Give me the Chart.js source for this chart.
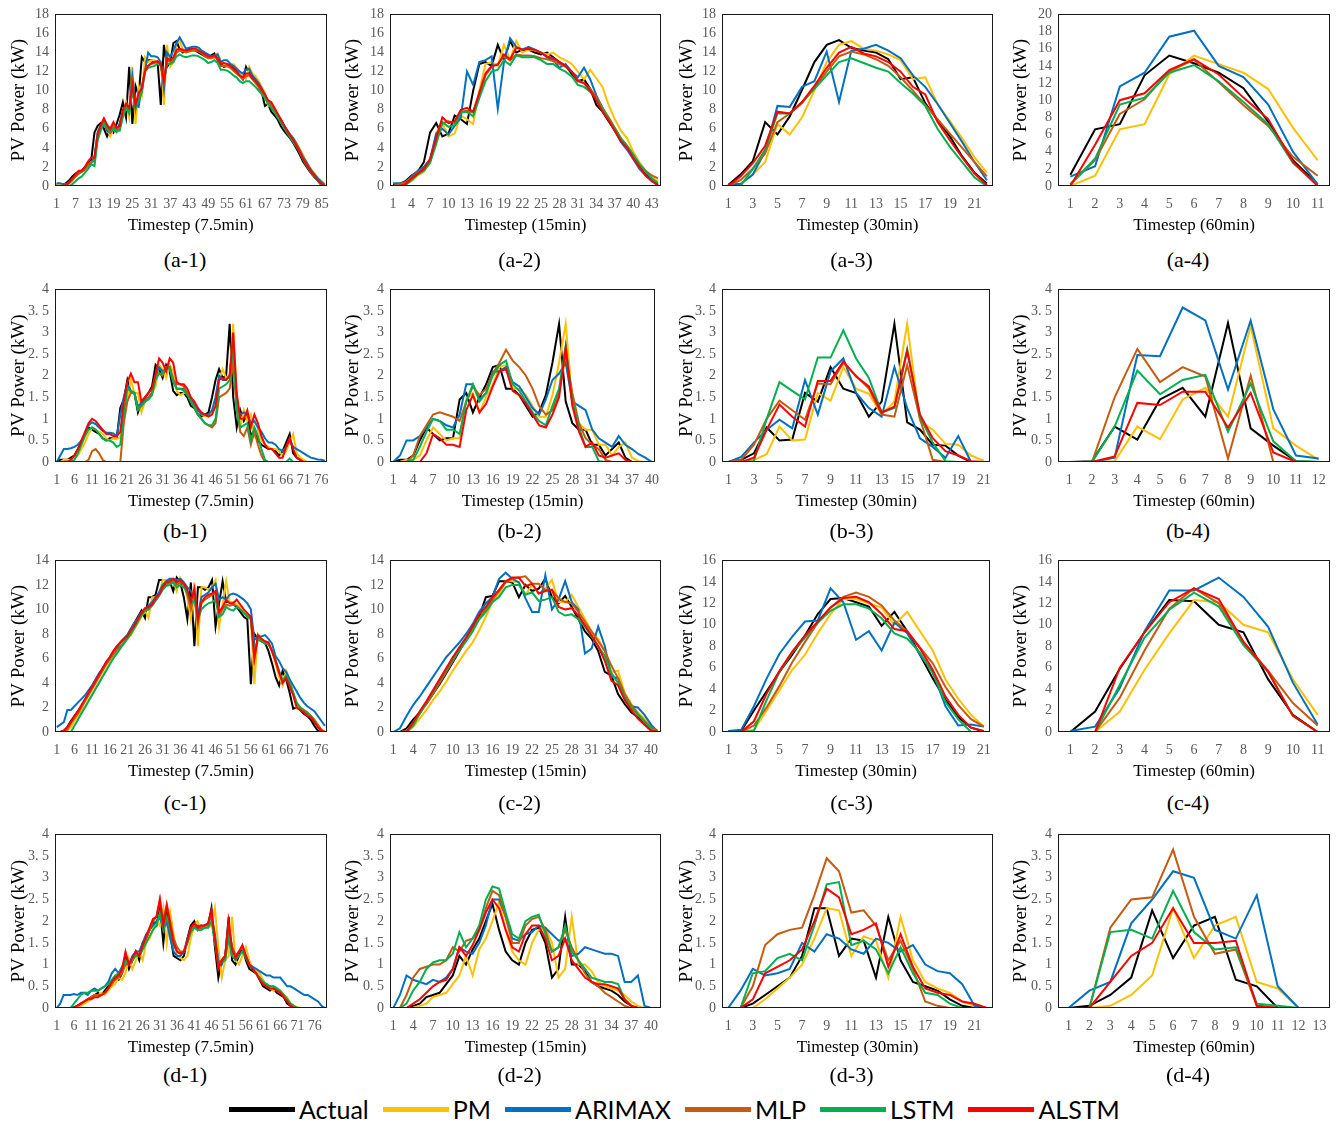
<!DOCTYPE html>
<html>
<head>
<meta charset="utf-8">
<title>PV power forecasts</title>
<script src="https://cdn.jsdelivr.net/npm/chart.js@4.4.1/dist/chart.umd.min.js"></script>
<style>
  body { margin: 0; background: #fff; }
  #page { position: relative; width: 1341px; height: 1125px; overflow: hidden; }
  .panel { position: absolute; }
  .caption { position: absolute; width: 120px; margin-left: -60px; text-align: center;
             font: 22px 'Liberation Serif', 'Times New Roman', serif; line-height: 26px; color: #000; }
  #legend { position: absolute; left: 229px; top: 1092px; height: 34px; display: flex; align-items: center;
            font-family: Lato, 'Open Sans', sans-serif; font-size: 25px; color: #000; }
  #legend .item { display: flex; align-items: center; margin-right: 14px; }
  #legend .swatch { display: inline-block; width: 66px; height: 5px; margin-right: 4px; }
</style>
</head>
<body>
<div id="page"></div>
<script>
// series shown in every panel
const seriesNames = ['Actual', 'PM', 'ARIMAX', 'MLP', 'LSTM', 'ALSTM'];
const seriesColors = ['#000000', '#FFC000', '#0070C0', '#C55A11', '#00B050', '#FF0000'];

// ---- (a-1) 7.5 min ----
const a1Actual = [0.2,0.1,0.1,0.3,0.6,1.0,1.3,1.5,1.6,2.0, 2.5,2.8,5.6,6.3,6.6,6.0,5.2,6.0,5.6,6.5,
  7.5,8.8,7.2,12.5,6.5,10.5,9.5,13.5,13.0,13.2, 13.2,13.0,13.0,8.5,14.8,12.5,13.0,15.0,15.2,14.3,
  14.0,14.2,14.4,14.3,14.2,14.0,13.8,13.6,13.5,13.7, 13.9,13.2,12.8,12.5,12.6,12.8,12.4,12.0,11.6,11.2,
  12.5,11.8,11.5,11.0,10.4,9.8,8.4,8.6,7.8,7.4, 7.0,6.3,5.8,5.4,5.0,4.5,3.9,3.3,2.6,2.1, 1.6,1.2,0.8,0.5,0.2,0.0];
const a1PM = [0.2,0.2,0.1,0.1,0.3,0.6,1.0,1.3,1.5,1.6, 2.0,2.5,2.8,5.6,6.3,6.6,6.0,5.2,6.0,5.6,
  6.5,7.5,8.8,7.2,12.5,6.5,10.5,9.5,13.5,13.0, 13.2,13.2,13.0,13.0,8.5,14.8,12.5,13.0,15.0,15.2,
  14.3,14.0,14.2,14.4,14.3,14.2,14.0,13.8,13.6,13.5, 13.7,13.9,13.2,12.8,12.5,12.6,12.8,12.4,12.0,11.6,
  11.2,12.5,11.8,11.5,11.0,10.4,9.8,8.4,8.6,7.8, 7.4,7.0,6.3,5.8,5.4,5.0,4.5,3.9,3.3,2.6, 2.1,1.6,1.2,0.8,0.5,0.2];
const a1ARIMAX = [0.3,0.3,0.2,0.2,0.4,0.7,1.0,1.3,1.5,1.8, 2.2,2.5,3.0,5.6,6.4,6.6,5.8,5.6,6.0,5.7,
  6.6,7.8,8.6,8.0,11.5,8.5,8.3,10.5,12.0,14.0, 13.6,13.6,13.5,13.0,10.2,14.0,13.5,14.2,15.0,15.6,
  15.0,14.4,14.5,14.6,14.6,14.5,14.2,14.0,13.8,13.6, 13.7,13.8,13.0,13.2,13.2,12.8,12.6,12.3,12.0,11.8,
  12.2,12.3,11.6,11.2,10.8,10.2,9.6,8.8,8.6,8.0, 7.5,7.0,6.4,5.9,5.4,5.0,4.4,3.8,3.1,2.6, 2.0,1.5,1.1,0.7,0.4,0.1];
const a1MLP = [0,0,0,0.1,0.3,0.6,1.0,1.3,1.5,1.8, 2.2,2.5,2.6,5.0,6.0,6.8,6.0,5.6,6.3,5.8,
  6.2,7.5,8.5,7.8,10.8,8.0,9.5,10.0,12.3,12.6, 12.8,12.9,13.0,12.8,10.8,13.2,13.0,13.2,14.0,14.2,
  14.1,14.0,14.1,14.2,14.2,14.1,13.9,13.6,13.4,13.4, 13.5,13.3,12.6,12.6,12.6,12.4,12.1,11.8,11.5,11.2,
  11.5,11.6,11.2,10.8,10.4,9.9,9.4,8.8,8.5,7.9, 7.4,6.9,6.3,5.8,5.3,4.8,4.3,3.7,3.0,2.4, 1.8,1.3,0.9,0.5,0.2,0.0];
const a1LSTM = [0,0,0,0,0,0.2,0.5,0.8,1.0,1.4, 1.8,2.3,2.1,4.8,5.8,6.6,6.2,5.8,6.0,5.8,
  5.8,7.2,8.2,7.6,10.0,8.2,9.0,9.8,12.0,12.4, 12.5,12.6,12.8,12.6,11.0,12.8,12.8,13.0,13.6,13.8,
  13.6,13.5,13.6,13.7,13.7,13.6,13.4,13.2,12.9,13.0, 13.2,12.9,12.2,12.2,12.1,11.9,11.6,11.4,11.0,10.8,
  11.0,11.0,10.7,10.4,10.0,9.6,9.2,8.6,8.2,7.7, 7.2,6.7,6.1,5.6,5.1,4.6,4.1,3.5,2.8,2.2, 1.7,1.2,0.8,0.4,0,0];
const a1ALSTM = [0,0,0,0.1,0.4,0.8,1.2,1.6,1.6,2.0, 2.6,3.0,3.0,5.4,6.4,7.1,6.4,6.0,6.7,6.1,
  6.3,8.0,8.6,8.2,10.6,8.5,9.8,10.2,12.0,12.6, 12.9,13.0,13.1,12.8,11.0,13.4,13.2,13.5,14.3,14.4,
  14.3,14.2,14.3,14.4,14.4,14.2,14.0,13.8,13.6,13.6, 13.7,13.4,12.8,12.9,12.8,12.6,12.3,12.0,11.6,11.4,
  11.8,11.8,11.3,11.0,10.6,10.1,9.6,9.0,8.8,8.2, 7.6,7.0,6.4,5.8,5.3,4.8,4.2,3.6,2.9,2.3, 1.8,1.3,0.9,0.5,0.2,0];

// ---- (a-2) 15 min ----
const a2Actual = [0.1,0.2,0.5,1.1,1.5,2.5,5.6,6.6,5.2,5.5, 7.4,7.0,6.5,10.0,12.8,13.0,12.6,14.8,13.2,15.2,
  14.0,14.3,14.3,14.0,13.8,14.0,13.5,13.0,12.6,11.8, 11.0,11.2,10.2,8.5,7.8,6.8,5.8,4.8,4.0,3.0, 2.0,1.2,0.6,0.1];
const a2PM = [0.0,0.1,0.2,0.5,1.1,1.5,2.5,5.6,6.6,5.2, 5.5,7.4,7.0,6.5,10.0,12.8,13.0,12.6,14.8,13.2,
  15.2,14.0,14.3,14.3,14.0,13.8,14.0,13.5,13.2,12.8, 12.0,11.2,12.2,11.3,10.4,8.5,7.0,5.8,5.0,3.6, 2.5,1.6,0.9,0.5];
const a2ARIMAX = [0.3,0.3,0.4,1.0,1.6,2.0,2.8,5.5,6.0,5.4, 6.3,7.2,12.0,10.6,13.0,13.2,13.6,8.1,13.0,15.5,
  14.6,14.3,14.6,14.3,14.0,13.5,13.2,12.4,12.8,12.0, 11.4,12.4,11.2,9.5,8.2,7.0,5.8,4.6,3.8,2.8, 1.8,1.1,0.6,0.2];
const a2MLP = [0,0.2,0.4,0.9,1.4,1.8,2.6,4.6,6.6,6.8, 6.6,7.8,7.9,7.7,9.5,11.6,12.5,12.8,13.6,13.2,
  13.8,13.7,13.7,13.6,13.4,13.3,13.1,12.8,12.5,12.0, 11.1,10.8,10.2,9.3,8.2,7.2,6.1,5.0,4.2,3.2, 2.3,1.6,1.1,0.8];
const a2LSTM = [0,0,0.1,0.6,1.2,1.6,2.4,4.4,6.7,6.2, 6.4,7.7,7.8,7.3,9.2,11.0,12.0,12.2,13.2,12.7,
  13.7,13.5,13.5,13.5,13.2,12.8,12.8,12.3,12.0,11.5, 10.6,10.4,9.9,9.1,8.1,7.0,6.0,5.0,4.2,3.3, 2.3,1.5,0.8,0.3];
const a2ALSTM = [0,0,0.2,0.8,1.3,1.8,2.8,5.0,7.2,6.6, 6.8,8.0,8.2,7.8,9.8,11.8,12.6,12.7,13.8,13.3,
  14.5,14.3,14.4,14.3,14.0,13.6,13.4,13.0,12.6,12.0, 11.0,10.8,10.0,9.0,7.8,6.9,5.8,4.7,4.0,2.9, 2.0,1.1,0.5,0.1];

// ---- (a-3) 30 min ----
const a3Actual = [0.1,1.2,2.6,6.7,5.4,7.3,10.1,13.0,14.8,15.3,14.5,14.2,14.0,13.3,11.2,11.4,8.7,6.9,5.2,3.1,1.4,0.25];
const a3PM = [0,0.2,1.2,2.5,6.5,5.4,7.2,10.0,13.0,14.8,15.2,14.4,14.2,13.8,13.2,11.2,11.4,8.6,6.8,5.0,3.0,1.4];
const a3ARIMAX = [0.2,0.2,1.2,3.6,8.4,8.3,10.4,11.0,14.1,8.8,14.2,14.4,14.8,14.2,13.4,11.6,10.4,8.6,6.6,4.6,2.5,0.6];
const a3MLP = [0,0.6,1.8,3.4,6.7,7.6,8.7,10.3,12.0,13.6,14.1,13.8,13.3,12.6,11.4,10.0,8.5,7.0,5.5,4.0,2.5,1.0];
const a3LSTM = [0,0,1.8,3.8,7.6,7.6,8.8,10.2,11.6,13.0,13.4,12.9,12.4,12.0,10.8,9.7,8.4,6.0,4.1,2.5,0.9,0];
const a3ALSTM = [0,1.0,2.4,4.2,7.8,7.6,8.8,10.5,12.4,14.0,14.6,13.9,13.6,13.0,12.0,10.4,9.6,6.7,4.8,3.0,1.3,0.1];

// ---- (a-4) 60 min ----
const a4Actual = [1.3,6.6,7.2,12.9,15.2,14.3,13.2,11.4,7.5,3.0,0.2];
const a4PM = [0,1.2,6.6,7.2,13.0,15.2,14.2,13.2,11.3,6.8,3.0];
const a4ARIMAX = [1.1,2.3,11.6,13.2,17.4,18.1,14.0,12.7,9.5,4.0,0.2];
const a4MLP = [0.2,3.0,8.4,10.1,13.4,14.7,12.1,9.4,7.0,3.4,1.2];
const a4LSTM = [0.2,3.2,9.5,10.3,13.2,14.1,12.2,9.8,7.2,2.7,0.1];
const a4ALSTM = [0,4.8,10.0,10.8,13.5,14.8,13.0,10.3,7.8,2.8,0];

// ---- (b-1) 7.5 min ----
const b1Actual = [0,0.05,0.05,0.05,0.1,0.15,0.3,0.45,0.65,0.8, 0.75,0.7,0.65,0.55,0.5,0.55,0.55,0.55,1.25,1.45,
  1.9,1.6,1.6,1.15,1.4,1.5,1.6,1.75,2.25,2.15, 1.95,2.25,2.1,1.65,1.55,1.6,1.6,1.5,1.3,1.25,
  1.1,1.05,1.1,1.15,1.5,1.9,2.15,1.95,2.0,3.2, 1.5,0.8,1.2,0.95,1.1,0.6,0.75,0.5,0.4,0.35,
  0.3,0.3,0.25,0.15,0.25,0.45,0.65,0.2,0.1,0.05, 0,0,0,0,0,0,0];
const b1PM = [0,0,0.05,0.05,0.05,0.1,0.15,0.3,0.45,0.65, 0.8,0.75,0.7,0.65,0.55,0.5,0.55,0.55,0.55,1.25,
  1.45,1.9,1.6,1.6,1.15,1.4,1.5,1.6,1.75,2.25, 2.15,1.95,2.25,2.1,1.65,1.55,1.6,1.6,1.5,1.3,
  1.25,1.1,1.05,1.1,1.15,1.5,1.9,2.15,1.95,2.0, 3.2,1.5,0.8,1.2,0.95,1.1,0.6,0.75,0.5,0.4,
  0.35,0.3,0.3,0.25,0.15,0.25,0.45,0.65,0.2,0.1, 0.05,0,0,0,0,0,0];
const b1ARIMAX = [0,0.15,0.3,0.3,0.32,0.35,0.4,0.5,0.65,0.85, 0.92,0.88,0.8,0.72,0.68,0.68,0.66,0.6,1.1,1.5,
  1.8,1.65,1.6,1.3,1.35,1.45,1.5,1.6,2.0,2.2, 2.1,2.15,2.2,1.9,1.7,1.7,1.7,1.6,1.45,1.35,
  1.2,1.1,1.1,1.1,1.2,1.5,2.0,1.9,1.9,2.0, 2.8,1.3,1.1,1.15,1.1,0.9,0.95,0.8,0.7,0.55,
  0.45,0.45,0.4,0.3,0.25,0.35,0.5,0.35,0.3,0.25, 0.2,0.15,0.1,0.08,0.06,0.05,0.03];
const b1MLP = [0,0,0,0,0,0,0,0,0,0.05, 0.25,0.3,0.2,0.05,0,0,0,0,0,0.9,
  1.4,1.6,1.6,1.25,1.3,1.4,1.5,1.6,2.0,2.05, 2.0,2.2,2.2,1.9,1.8,1.8,1.75,1.6,1.4,1.3,
  1.1,1.0,0.9,0.85,0.8,0.9,1.5,1.55,1.6,1.7, 2.3,1.2,0.7,0.6,0.8,0.4,0.7,0.4,0.15,0,
  0,0,0,0,0,0,0,0,0,0, 0,0,0,0,0,0,0];
const b1LSTM = [0,0,0,0,0,0.05,0.2,0.4,0.6,0.75, 0.8,0.75,0.65,0.55,0.5,0.5,0.45,0.35,0.4,1.1,
  1.7,1.65,1.6,1.2,1.3,1.4,1.45,1.55,1.9,2.05, 2.05,2.2,2.15,1.85,1.7,1.7,1.65,1.55,1.4,1.25,
  1.1,1.0,0.9,0.85,0.85,1.0,1.7,1.75,1.8,1.9, 2.7,1.2,0.8,0.85,0.9,0.5,0.8,0.6,0.3,0.05,
  0,0,0,0,0,0,0.08,0,0,0, 0,0,0,0,0,0,0];
const b1ALSTM = [0,0,0,0,0.05,0.15,0.3,0.5,0.7,0.9, 1.0,0.95,0.85,0.75,0.65,0.65,0.6,0.6,0.7,1.4,
  1.85,2.05,1.85,1.85,1.4,1.5,1.6,1.7,2.05,2.4, 2.3,2.1,2.4,2.3,1.85,1.8,1.8,1.7,1.5,1.4,
  1.25,1.15,1.1,1.05,1.1,1.3,1.9,1.95,1.9,2.0, 3.0,1.6,1.0,1.0,1.2,0.8,1.1,0.9,0.6,0.4,
  0.3,0.3,0.2,0.1,0.1,0.35,0.55,0.3,0.1,0.05, 0,0,0,0,0,0,0];

// ---- (b-2) 15 min ----
const b2Actual = [0,0.05,0.05,0.15,0.5,0.8,0.65,0.5,0.55,0.55, 1.45,1.6,1.15,1.5,1.8,2.2,2.25,1.7,1.7,1.55,
  1.3,1.05,1.15,1.55,2.3,3.2,1.4,0.9,0.75,0.75, 0.4,0.4,0.15,0.3,0.45,0.1,0,0,0,0];
const b2PM = [0,0,0.05,0.05,0.15,0.5,0.8,0.65,0.5,0.55, 0.55,1.45,1.6,1.15,1.5,1.8,2.2,2.25,1.7,1.7,
  1.55,1.3,1.05,1.05,1.55,2.3,3.2,1.4,0.9,0.75, 0.75,0.4,0.4,0.15,0.35,0.45,0.1,0.02,0,0];
const b2ARIMAX = [0,0.15,0.5,0.5,0.6,0.8,1.0,0.95,0.85,0.8, 1.1,1.8,1.8,1.45,1.6,2.1,2.1,2.2,1.85,1.75,
  1.5,1.25,1.1,1.45,1.9,2.05,2.3,1.4,1.3,1.2, 0.75,0.55,0.45,0.35,0.6,0.4,0.3,0.18,0.1,0];
const b2MLP = [0,0,0,0.15,0.6,0.85,1.1,1.15,1.1,1.05, 0.95,1.4,1.75,1.55,1.7,2.05,2.3,2.6,2.35,2.2,
  2.0,1.7,1.3,1.1,1.2,1.6,2.5,1.6,0.9,0.55, 0.4,0.3,0.05,0,0,0,0,0,0,0];
const b2LSTM = [0,0,0,0.05,0.35,0.7,1.0,0.95,0.75,0.75, 0.65,1.4,1.8,1.4,1.6,2.0,2.25,2.35,1.8,1.65,
  1.4,1.15,0.95,0.85,1.3,1.7,2.7,1.4,0.8,0.35, 0.35,0.02,0,0,0,0,0,0,0,0];
const b2ALSTM = [0,0,0,0,0,0.2,0.65,0.55,0.4,0.4, 0.35,1.2,1.55,1.15,1.35,1.75,2.1,2.15,1.65,1.55,
  1.35,1.1,0.85,0.8,1.1,1.5,2.65,1.3,0.7,0.35, 0.45,0.15,0.1,0.15,0.2,0.05,0,0,0,0];

// ---- (b-3) 30 min ----
const b3Actual = [0,0.05,0.2,0.8,0.5,0.52,1.6,1.4,2.2,1.7,1.6,1.05,1.4,3.2,0.92,0.75,0.4,0.38,0.15,0,0];
const b3PM = [0,0,0.05,0.18,0.82,0.5,0.52,1.6,1.42,2.2,1.7,1.58,1.1,1.4,3.2,0.95,0.75,0.42,0.4,0.15,0.03];
const b3ARIMAX = [0,0.12,0.45,0.75,0.98,0.78,1.9,1.1,2.1,2.4,1.6,1.25,1.05,2.2,1.25,0.55,0.35,0.1,0.6,0,0];
const b3MLP = [0,0.05,0.4,1.0,1.42,1.2,0.98,1.82,1.8,2.3,2.0,1.7,1.1,1.05,2.25,1.0,0.05,0,0,0,0];
const b3LSTM = [0,0,0.02,1.0,1.85,1.65,1.45,2.42,2.42,3.05,2.4,1.95,1.15,1.25,2.62,1.05,0.45,0.02,0,0,0];
const b3ALSTM = [0,0,0.1,0.75,1.33,1.05,0.82,1.88,1.88,2.33,1.98,1.75,1.15,1.28,2.57,1.1,0.55,0.25,0.15,0.02,0];

// ---- (b-4) 60 min ----
const b4Actual = [0,0.02,0.82,0.52,1.45,1.72,1.05,3.22,0.78,0.38,0.02,0];
const b4PM = [0,0,0.02,0.82,0.53,1.45,1.72,1.05,3.15,0.78,0.38,0.05];
const b4ARIMAX = [0,0,0.1,2.48,2.45,3.58,3.28,1.68,3.28,1.22,0.15,0.08];
const b4MLP = [0,0,1.5,2.62,1.85,2.2,1.98,0.08,2.0,0,0,0];
const b4LSTM = [0,0,0.82,2.12,1.57,1.9,2.02,0.7,1.82,0.48,0.02,0];
const b4ALSTM = [0,0,0.13,1.37,1.32,1.63,1.63,0.8,1.6,0.22,0,0];

// ---- (c-1) 7.5 min ----
const c1Actual = [0,0,0.1,0.4,0.9,1.3,1.7,2.1,2.6,3.1, 3.6,4.1,4.6,5.1,5.6,6.0,6.5,6.9,7.3,7.6,
  7.9,8.4,8.9,9.4,9.9,9.3,11.0,11.0,11.2,12.4, 12.4,12.4,12.3,11.5,12.6,12.2,11.0,9.2,12.2,7.0,
  11.8,11.8,11.6,11.8,12.4,8.6,10.5,12.3,10.6,10.6, 10.4,10.2,9.8,9.4,9.2,3.9,8.0,7.6,7.4,7.3,
  6.6,5.6,4.5,3.8,5.0,4.3,3.2,1.9,2.0,1.8, 1.5,1.3,1.0,0.5,0.1,0,0];
const c1PM = [0,0,0,0.1,0.4,0.9,1.3,1.7,2.1,2.6, 3.1,3.6,4.1,4.6,5.1,5.6,6.0,6.5,6.9,7.3,
  7.6,7.9,8.4,8.9,9.4,9.9,9.3,11.0,11.0,11.2, 12.4,12.4,12.4,12.3,11.5,12.6,12.2,11.0,9.2,12.2,
  7.0,11.8,11.8,11.6,11.8,12.4,8.6,10.5,12.3,10.6, 10.6,10.4,10.2,9.8,9.4,9.2,3.9,8.0,7.6,7.4,
  7.3,6.6,5.6,4.5,3.8,5.0,4.3,3.2,1.9,2.0, 1.8,1.5,1.3,1.0,0.5,0.1,0];
const c1ARIMAX = [0.4,0.6,0.8,1.8,1.8,2.1,2.4,2.7,3.0,3.4, 3.8,4.3,4.8,5.2,5.7,6.1,6.5,6.9,7.3,7.6,
  7.9,8.4,8.9,9.3,9.8,10.0,10.3,10.6,11.0,11.4, 12.0,12.3,12.5,12.5,12.4,12.5,12.2,11.8,11.5,10.9,
  9.6,11.0,11.2,11.4,11.8,12.1,10.8,11.0,10.8,11.2, 11.3,11.2,11.0,10.8,10.5,10.0,7.5,7.8,7.8,7.9,
  7.6,7.2,6.2,5.8,5.2,4.9,4.3,3.8,3.3,2.8, 2.4,2.1,1.9,1.7,1.3,0.9,0.5];
const c1MLP = [0,0,0,0.2,0.7,1.1,1.5,2.0,2.5,3.0, 3.5,4.0,4.5,5.0,5.5,5.9,6.3,6.7,7.0,7.3,
  7.7,8.2,8.6,9.1,9.6,10.0,10.0,10.4,10.8,11.2, 11.8,12.0,12.2,12.3,12.0,12.2,12.0,11.2,10.0,11.0,
  8.8,10.5,10.8,11.0,11.2,11.3,9.5,10.0,10.4,10.3, 10.4,10.3,10.0,9.7,9.5,9.3,6.0,7.6,7.5,7.3,
  7.2,6.6,5.8,4.8,4.2,4.6,4.0,3.2,2.4,2.0, 1.8,1.6,1.3,1.0,0.6,0.2,0];
const c1LSTM = [0,0,0,0,0,0.5,1.0,1.5,2.0,2.5, 3.0,3.5,4.0,4.5,5.0,5.5,6.0,6.4,6.8,7.2,
  7.6,8.0,8.5,9.0,9.5,9.9,10.0,10.3,10.7,11.1, 11.6,11.9,12.0,12.2,11.8,12.0,11.8,11.4,10.5,10.8,
  9.2,10.0,10.3,10.5,10.6,10.8,9.4,9.6,10.2,10.0, 9.9,10.2,10.0,9.7,9.4,9.2,6.5,7.6,7.4,7.2,
  7.2,6.6,5.9,5.0,4.2,4.6,4.0,3.2,2.3,2.0, 1.7,1.5,1.3,0.9,0.4,0,0];
const c1ALSTM = [0,0,0.1,0.4,0.8,1.3,1.7,2.2,2.7,3.2, 3.7,4.2,4.7,5.2,5.7,6.1,6.6,7.0,7.3,7.6,
  7.8,8.3,8.7,9.2,9.7,10.1,10.2,10.4,10.9,11.2, 11.8,12.2,12.3,12.5,12.2,12.4,12.1,11.6,10.6,11.7,
  9.2,10.6,11.0,11.2,11.3,11.5,9.8,10.2,10.8,10.5, 10.5,10.8,10.4,10.0,9.7,9.4,6.0,7.9,7.6,7.4,
  7.3,6.6,5.8,4.9,4.0,4.4,3.7,3.0,2.0,1.8, 1.6,1.3,1.2,0.8,0.4,0.1,0];

// ---- (c-2) 15 min ----
const c2Actual = [0,0,0.3,1.0,1.6,2.3,3.1,3.9,4.8,5.7, 6.6,7.5,8.4,9.4,11.0,11.1,12.3,12.3,12.2,11.0,
  12.0,11.5,11.7,12.5,11.0,10.5,11.1,10.2,9.2,8.2, 7.6,6.6,4.9,4.6,3.1,2.3,1.6,1.2,0.7,0.2, 0];
const c2PM = [0,0,0,0.4,1.1,1.8,2.6,3.3,4.1,5.0, 5.8,6.6,7.3,8.3,9.4,10.6,11.2,12.3,12.3,12.2,
  11.2,12.0,11.3,11.7,12.4,10.6,10.6,11.2,10.2,9.2, 8.2,7.6,6.6,4.9,5.0,3.2,2.3,1.6,1.1,0.5, 0.1];
const c2ARIMAX = [0,0.3,1.3,2.2,2.9,3.7,4.5,5.3,6.1,6.7, 7.3,8.0,8.8,9.8,10.5,11.0,12.5,13.0,12.5,12.2,
  10.9,9.8,9.8,12.8,10.0,10.8,12.3,10.6,10.0,6.4, 6.8,8.6,7.0,4.5,4.4,2.8,2.1,2.0,1.4,0.6, 0];
const c2MLP = [0,0,0.1,0.7,1.5,2.3,3.1,4.0,4.9,5.8, 6.7,7.5,8.4,9.3,10.0,10.8,11.5,12.2,12.5,12.6,
  12.7,12.1,12.1,11.6,11.6,10.9,10.6,10.5,9.8,9.0, 8.2,7.4,6.6,5.4,4.4,3.1,2.2,1.5,0.9,0.4, 0.1];
const c2LSTM = [0,0,0,0.5,1.5,2.4,3.3,4.2,5.1,5.9, 6.7,7.4,8.2,9.2,9.8,10.6,11.0,11.8,12.0,12.0,
  11.2,11.4,10.7,10.8,11.0,9.8,9.5,9.6,9.2,8.6, 7.8,7.0,6.2,4.8,4.0,2.8,2.0,1.4,0.8,0.3, 0];
const c2ALSTM = [0,0,0,0.8,1.7,2.5,3.4,4.3,5.2,6.1, 6.9,7.7,8.6,9.6,10.2,11.0,11.6,12.3,12.6,12.6,
  11.9,12.1,11.3,11.5,11.6,10.2,10.0,10.1,9.5,8.7, 7.9,7.0,5.8,4.2,3.8,2.6,1.8,1.1,0.6,0.1, 0];

// ---- (c-3) 30 min ----
const c3Actual = [0.1,0.1,2.0,3.8,5.6,7.2,9.0,11.0,12.4,12.5,12.1,11.7,9.9,11.2,9.4,7.2,5.0,3.0,1.4,0.4,0.05];
const c3PM = [0,0,0.2,2.0,3.9,5.8,7.2,9.2,11.0,12.4,12.4,12.0,11.6,10.0,11.2,9.4,7.6,4.9,3.1,1.6,0.5];
const c3ARIMAX = [0.1,0.2,2.4,5.0,7.3,8.9,10.3,10.4,13.4,12.1,8.6,9.4,7.6,10.2,9.2,7.2,5.6,2.4,0.6,0.7,0.5];
const c3MLP = [0,0,0.6,2.3,4.3,6.5,8.4,10.2,11.6,12.6,13.0,12.6,11.8,10.4,9.4,7.9,6.4,4.2,2.5,1.2,0.5];
const c3LSTM = [0,0,0.1,3.0,5.6,7.4,8.8,10.2,11.3,11.9,11.9,11.5,10.6,9.2,8.7,7.4,5.5,2.8,1.2,0,0];
const c3ALSTM = [0,0,1.0,3.6,5.7,7.5,9.0,10.3,11.6,12.5,12.6,12.1,11.0,9.6,9.4,7.8,5.8,3.3,1.6,0.4,0.1];

// ---- (c-4) 60 min ----
const c4Actual = [0,1.9,5.9,9.3,12.3,12.2,10.0,9.3,4.9,1.6,0];
const c4PM = [0,0,1.9,5.8,9.2,12.3,12.1,10.0,9.3,4.9,1.6];
const c4ARIMAX = [0.1,0.5,4.1,9.4,13.2,13.2,14.4,12.6,9.8,4.6,0.7];
const c4MLP = [0,0,3.2,7.6,11.5,13.4,12.0,8.4,5.7,2.7,0.6];
const c4LSTM = [0,0,4.4,8.8,11.4,13.0,11.7,8.1,5.6,1.5,0];
const c4ALSTM = [0,0,6.0,9.3,12.1,13.4,12.4,8.4,5.6,1.5,0];

// ---- (d-1) 7.5 min ----
const d1Actual = [0,0,0,0,0,0.02,0.05,0.1,0.15,0.2, 0.25,0.3,0.35,0.3,0.4,0.5,0.55,0.7,0.65,0.8,
  1.15,0.9,1.1,1.3,1.1,1.5,1.6,1.8,2.0,1.9, 2.3,1.5,2.2,1.7,1.2,1.15,1.1,1.2,1.6,1.9,
  2.0,1.8,1.9,1.85,1.9,2.3,1.4,0.7,1.1,1.2, 2.1,1.1,1.0,1.2,1.4,1.1,0.9,0.85,0.8,0.65,
  0.5,0.45,0.4,0.45,0.35,0.3,0.25,0.1,0.05,0.02, 0,0,0,0,0,0,0,0,0];
const d1PM = [0,0,0,0,0,0,0.02,0.05,0.1,0.15, 0.2,0.25,0.3,0.35,0.3,0.4,0.5,0.55,0.7,0.65,
  0.8,1.15,0.9,1.1,1.3,1.1,1.5,1.6,1.8,2.0, 1.9,2.3,1.5,2.2,1.7,1.2,1.15,1.1,1.2,1.6,
  1.9,2.0,1.8,1.9,1.85,1.9,2.3,1.4,0.7,1.1, 1.2,2.1,1.1,1.0,1.2,1.4,1.1,0.9,0.85,0.8,
  0.65,0.5,0.45,0.4,0.45,0.35,0.3,0.25,0.1,0.05, 0.02,0,0,0,0,0,0,0,0];
const d1ARIMAX = [0,0.1,0.3,0.3,0.3,0.32,0.3,0.35,0.35,0.3, 0.4,0.45,0.4,0.45,0.5,0.6,0.8,0.9,0.8,0.95,
  1.1,1.0,1.2,1.3,1.3,1.5,1.7,1.8,1.9,2.0, 2.1,1.8,2.0,1.6,1.3,1.2,1.2,1.3,1.6,1.8,
  1.9,1.9,1.85,1.9,1.95,2.1,1.7,1.1,1.0,1.2, 1.8,1.4,1.2,1.3,1.4,1.2,1.0,0.95,0.9,0.85,
  0.8,0.75,0.75,0.7,0.7,0.7,0.6,0.5,0.5,0.45, 0.4,0.35,0.3,0.3,0.25,0.2,0.15,0.05,0];
const d1MLP = [0,0,0,0,0,0,0.05,0.1,0.15,0.2, 0.25,0.3,0.3,0.3,0.35,0.45,0.55,0.65,0.7,0.8,
  1.0,1.0,1.1,1.25,1.2,1.4,1.6,1.8,2.0,2.1, 2.5,2.0,2.4,2.0,1.6,1.4,1.3,1.3,1.5,1.8,
  1.9,1.8,1.85,1.9,1.9,2.2,1.6,1.0,1.1,1.2, 1.9,1.4,1.2,1.3,1.4,1.2,1.0,0.9,0.8,0.7,
  0.6,0.55,0.5,0.5,0.45,0.4,0.3,0.2,0.1,0.05, 0,0,0,0,0,0,0,0,0];
const d1LSTM = [0,0,0,0,0,0.1,0.2,0.3,0.35,0.35, 0.4,0.4,0.4,0.45,0.5,0.55,0.65,0.75,0.8,0.9,
  1.1,1.0,1.1,1.2,1.2,1.35,1.5,1.65,1.8,1.9, 2.2,1.8,2.1,1.8,1.45,1.3,1.25,1.3,1.5,1.75,
  1.85,1.8,1.8,1.85,1.85,2.0,1.5,1.0,1.05,1.1, 1.6,1.2,1.1,1.2,1.3,1.15,1.0,0.9,0.8,0.7,
  0.6,0.55,0.5,0.5,0.45,0.4,0.3,0.2,0.1,0.02, 0,0,0,0,0,0,0,0,0];
const d1ALSTM = [0,0,0,0,0,0,0.05,0.1,0.15,0.2, 0.2,0.25,0.25,0.3,0.35,0.45,0.6,0.7,0.75,0.9,
  1.3,1.0,1.15,1.3,1.2,1.45,1.65,1.85,2.05,2.1, 2.5,1.9,2.35,1.9,1.5,1.3,1.25,1.3,1.55,1.85,
  1.95,1.85,1.9,1.9,1.95,2.25,1.6,0.9,1.1,1.2, 2.0,1.35,1.15,1.3,1.45,1.2,1.0,0.9,0.8,0.65,
  0.55,0.5,0.45,0.45,0.4,0.35,0.25,0.15,0.05,0, 0,0,0,0,0,0,0,0,0];

// ---- (d-2) 15 min ----
const d2Actual = [0,0,0,0.05,0.1,0.25,0.3,0.35,0.55,0.75, 1.2,1.0,1.35,1.6,2.0,2.4,1.8,1.3,1.1,1.0,
  1.5,1.8,1.85,1.5,0.7,0.9,2.1,1.0,1.0,0.85, 0.6,0.5,0.45,0.4,0.3,0.15,0.05,0,0,0, 0];
const d2PM = [0,0,0,0,0.05,0.1,0.25,0.3,0.35,0.55, 0.75,1.2,0.75,1.35,1.6,2.0,2.45,1.8,1.3,1.1,
  1.0,1.5,1.8,1.85,1.5,0.7,0.9,2.1,1.0,1.0, 0.85,0.6,0.5,0.45,0.4,0.3,0.15,0.05,0,0, 0];
const d2ARIMAX = [0,0.3,0.75,0.65,0.6,0.55,0.65,0.6,0.7,0.9, 1.4,1.3,1.25,1.5,1.9,2.5,2.5,2.1,1.6,1.55,
  1.7,1.75,1.9,1.85,1.7,1.55,1.6,1.2,1.25,1.4, 1.35,1.3,1.25,1.25,1.2,0.6,0.6,0.75,0.05,0, 0];
const d2MLP = [0,0,0.3,0.7,0.9,0.95,1.0,1.0,1.1,1.4, 1.3,1.55,1.6,1.8,2.3,2.7,2.6,2.1,1.5,1.5,
  1.9,2.05,2.1,1.8,1.3,1.4,1.8,1.4,1.1,0.8, 0.6,0.5,0.35,0.25,0.15,0.05,0,0,0,0, 0];
const d2LSTM = [0,0,0.1,0.4,0.6,0.9,1.05,1.1,1.1,1.25, 1.75,1.4,1.6,1.9,2.5,2.8,2.75,2.2,1.7,1.6,
  2.0,2.1,2.15,1.7,1.3,1.4,1.9,1.3,1.1,0.9, 0.7,0.65,0.6,0.6,0.55,0.2,0.05,0,0,0, 0];
const d2ALSTM = [0,0,0,0.1,0.2,0.35,0.5,0.6,0.65,0.9, 1.4,1.2,1.45,1.8,2.2,2.5,2.3,1.8,1.4,1.3,
  1.7,1.9,1.9,1.6,1.1,1.2,1.6,1.1,0.9,0.7, 0.6,0.55,0.55,0.5,0.45,0.2,0.05,0,0,0, 0];

// ---- (d-3) 30 min ----
const d3Actual = [0,0,0.1,0.3,0.5,0.7,1.2,2.3,2.3,1.2,1.6,1.55,0.7,2.1,1.1,0.6,0.5,0.4,0.2,0.05,0,0];
const d3PM = [0,0,0,0.2,0.45,0.7,1.0,1.6,2.3,2.25,1.2,1.65,1.55,0.7,2.1,1.1,0.6,0.45,0.35,0.15,0.05,0];
const d3ARIMAX = [0,0.4,0.9,0.75,0.8,0.9,1.5,1.3,1.7,1.6,1.35,1.25,1.6,1.5,1.3,1.45,1.0,0.85,0.8,0.55,0.05,0];
const d3MLP = [0,0,0.5,1.45,1.7,1.8,1.85,2.6,3.45,3.15,2.2,2.25,1.9,1.1,1.55,0.9,0.15,0.05,0,0,0,0];
const d3LSTM = [0,0,0.8,0.85,1.15,1.25,1.1,1.9,2.85,2.9,1.45,1.55,1.35,0.8,1.4,0.8,0.35,0.3,0.1,0,0,0];
const d3ALSTM = [0,0,0.2,0.8,0.95,1.1,1.35,2.0,2.75,2.55,1.7,1.8,1.95,0.95,1.7,0.95,0.45,0.35,0.3,0.15,0.1,0];

// ---- (d-4) 60 min ----
const d4Actual = [0,0.05,0.3,0.7,2.25,1.15,1.9,2.1,0.65,0.5,0,0,0];
const d4PM = [0,0,0.05,0.3,0.75,2.3,1.15,1.9,2.1,0.6,0.45,0,0];
const d4ARIMAX = [0,0.4,0.6,1.95,2.5,3.15,3.0,1.8,1.6,2.6,0.5,0,0];
const d4MLP = [0,0,1.85,2.5,2.55,3.65,2.1,1.25,1.35,0.05,0,0,0];
const d4LSTM = [0,0,1.75,1.8,1.6,2.7,1.75,1.35,1.4,0.1,0.05,0,0];
const d4ALSTM = [0,0,0.6,1.2,1.5,2.3,1.5,1.5,1.55,0.05,0,0,0];

// panel setup: caption, interval, label spacing, y range
const panels = [
  { tag: 'a-1', step: '7.5min', every: 6, yMax: 18, yStep: 2, data: [a1Actual, a1PM, a1ARIMAX, a1MLP, a1LSTM, a1ALSTM] },
  { tag: 'a-2', step: '15min', every: 3, yMax: 18, yStep: 2, data: [a2Actual, a2PM, a2ARIMAX, a2MLP, a2LSTM, a2ALSTM] },
  { tag: 'a-3', step: '30min', every: 2, yMax: 18, yStep: 2, data: [a3Actual, a3PM, a3ARIMAX, a3MLP, a3LSTM, a3ALSTM] },
  { tag: 'a-4', step: '60min', every: 1, yMax: 20, yStep: 2, data: [a4Actual, a4PM, a4ARIMAX, a4MLP, a4LSTM, a4ALSTM] },
  { tag: 'b-1', step: '7.5min', every: 5, yMax: 4, yStep: 0.5, data: [b1Actual, b1PM, b1ARIMAX, b1MLP, b1LSTM, b1ALSTM] },
  { tag: 'b-2', step: '15min', every: 3, yMax: 4, yStep: 0.5, data: [b2Actual, b2PM, b2ARIMAX, b2MLP, b2LSTM, b2ALSTM] },
  { tag: 'b-3', step: '30min', every: 2, yMax: 4, yStep: 0.5, data: [b3Actual, b3PM, b3ARIMAX, b3MLP, b3LSTM, b3ALSTM] },
  { tag: 'b-4', step: '60min', every: 1, yMax: 4, yStep: 0.5, data: [b4Actual, b4PM, b4ARIMAX, b4MLP, b4LSTM, b4ALSTM] },
  { tag: 'c-1', step: '7.5min', every: 5, yMax: 14, yStep: 2, data: [c1Actual, c1PM, c1ARIMAX, c1MLP, c1LSTM, c1ALSTM] },
  { tag: 'c-2', step: '15min', every: 3, yMax: 14, yStep: 2, data: [c2Actual, c2PM, c2ARIMAX, c2MLP, c2LSTM, c2ALSTM] },
  { tag: 'c-3', step: '30min', every: 2, yMax: 16, yStep: 2, data: [c3Actual, c3PM, c3ARIMAX, c3MLP, c3LSTM, c3ALSTM] },
  { tag: 'c-4', step: '60min', every: 1, yMax: 16, yStep: 2, data: [c4Actual, c4PM, c4ARIMAX, c4MLP, c4LSTM, c4ALSTM] },
  { tag: 'd-1', step: '7.5min', every: 5, yMax: 4, yStep: 0.5, data: [d1Actual, d1PM, d1ARIMAX, d1MLP, d1LSTM, d1ALSTM] },
  { tag: 'd-2', step: '15min', every: 3, yMax: 4, yStep: 0.5, data: [d2Actual, d2PM, d2ARIMAX, d2MLP, d2LSTM, d2ALSTM] },
  { tag: 'd-3', step: '30min', every: 2, yMax: 4, yStep: 0.5, data: [d3Actual, d3PM, d3ARIMAX, d3MLP, d3LSTM, d3ALSTM] },
  { tag: 'd-4', step: '60min', every: 1, yMax: 4, yStep: 0.5, data: [d4Actual, d4PM, d4ARIMAX, d4MLP, d4LSTM, d4ALSTM] }
];

// page grid (pixels)
const colLeft = [0, 334, 668, 1002];
const plotLeft = [55, 390, 722, 1058];
const plotRight = [327, 661, 993, 1330];
const plotTop = [12, 287, 558, 832];
const plotBottom = [186, 462, 732, 1008];
const captionY = [260, 531, 803, 1075];
const PAD_TOP = 12, PAD_RIGHT = 8, X_AXIS_H = 52;

Chart.defaults.font.family = "'Liberation Serif', 'Times New Roman', serif";
Chart.defaults.animation = false;

// black box around the plot area
const frame = {
  id: 'frame',
  afterDraw(chart) {
    const { ctx, chartArea: a } = chart;
    ctx.save();
    ctx.strokeStyle = '#1a1a1a';
    ctx.lineWidth = 1;
    ctx.strokeRect(Math.round(a.left) + 0.5, Math.round(a.top) + 0.5, Math.round(a.width) - 1, Math.round(a.height) - 1);
    ctx.restore();
  }
};

const page = document.getElementById('page');

panels.forEach((p, i) => {
  const r = Math.floor(i / 4), c = i % 4;
  const width = plotRight[c] - colLeft[c] + PAD_RIGHT;
  const height = plotBottom[r] - plotTop[r] + PAD_TOP + X_AXIS_H;

  const holder = document.createElement('div');
  holder.className = 'panel';
  holder.style.left = colLeft[c] + 'px';
  holder.style.top = (plotTop[r] - PAD_TOP) + 'px';
  const canvas = document.createElement('canvas');
  canvas.width = width;
  canvas.height = height;
  canvas.style.width = width + 'px';
  canvas.style.height = height + 'px';
  holder.appendChild(canvas);
  page.appendChild(holder);

  const labels = p.data[0].map((_, k) => String(k + 1));
  const yAxisWidth = plotLeft[c] - colLeft[c];

  new Chart(canvas.getContext('2d'), {
    type: 'line',
    data: {
      labels: labels,
      datasets: p.data.map((values, s) => ({
        label: seriesNames[s],
        data: values,
        borderColor: seriesColors[s],
        backgroundColor: seriesColors[s],
        borderWidth: 2,
        pointRadius: 0,
        tension: 0,
        fill: false,
        order: seriesNames.length - s
      }))
    },
    options: {
      responsive: false,
      devicePixelRatio: 1,
      layout: { padding: { top: PAD_TOP, right: PAD_RIGHT, left: 0, bottom: 0 } },
      plugins: { legend: { display: false }, tooltip: { enabled: false } },
      scales: {
        x: {
          type: 'category',
          offset: true,
          grid: { display: false, drawTicks: false },
          border: { display: false },
          afterFit: scale => { scale.height = X_AXIS_H; },
          ticks: {
            autoSkip: false, maxRotation: 0, minRotation: 0, padding: 10,
            color: '#595959', font: { size: 14 },
            callback: function(value, index) {
              return index % p.every === 0 ? this.getLabelForValue(value) : '';
            }
          },
          title: { display: true, text: 'Timestep (' + p.step + ')', color: '#000', font: { size: 17 }, padding: { top: 0, bottom: 2 } }
        },
        y: {
          min: 0,
          max: p.yMax,
          grid: { display: false, drawTicks: false },
          border: { display: false },
          afterFit: scale => { scale.width = yAxisWidth; },
          ticks: {
            stepSize: p.yStep, autoSkip: false, padding: 6, color: '#595959', font: { size: 14 },
            callback: v => Number.isInteger(v) ? String(v) : String(v).replace('.', '. ')
          },
          title: { display: true, text: 'PV Power (kW)', color: '#000', font: { size: 19 }, padding: { top: 8, bottom: 0 } }
        }
      }
    },
    plugins: [frame]
  });

  const cap = document.createElement('div');
  cap.className = 'caption';
  cap.textContent = '(' + p.tag + ')';
  cap.style.left = ((plotLeft[c] + plotRight[c]) / 2 - 6) + 'px';
  cap.style.top = (captionY[r] - 13) + 'px';
  page.appendChild(cap);
});

// shared legend along the bottom
const legend = document.createElement('div');
legend.id = 'legend';
seriesNames.forEach((name, s) => {
  const item = document.createElement('div');
  item.className = 'item';
  const sw = document.createElement('span');
  sw.className = 'swatch';
  sw.style.background = seriesColors[s];
  const txt = document.createElement('span');
  txt.textContent = name;
  item.appendChild(sw);
  item.appendChild(txt);
  legend.appendChild(item);
});
page.appendChild(legend);
</script>
</body>
</html>
